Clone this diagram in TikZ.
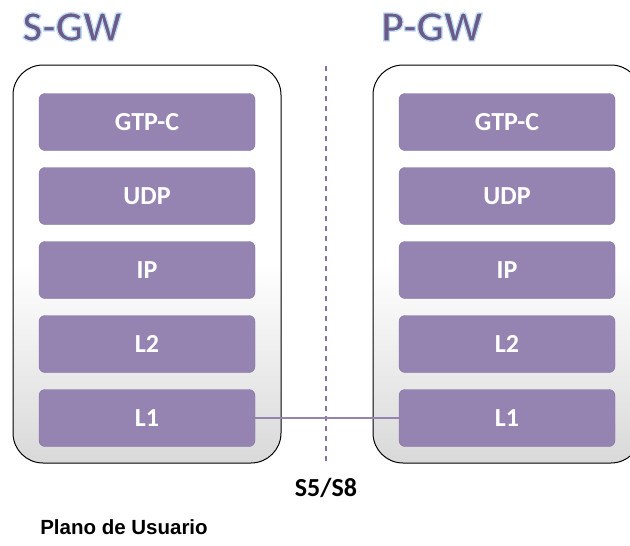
\documentclass[tikz,border=0pt]{standalone}
\usepackage{fontspec}
\newfontfamily\carlito{Carlito}
\newfontfamily\arialfont{Liberation Sans}
\usetikzlibrary{positioning}
\definecolor{layerpurple}{HTML}{9583B1}
\definecolor{layeredge}{HTML}{8372A0}
\definecolor{titlepurple}{HTML}{6B5B86}
% glowing outline of the titles
\newcommand{\glowtext}[1]{\special{pdf:literal 2 Tr 1.3 w 0.74 0.86 0.97 RG}#1\special{pdf:literal 0 Tr}}
\begin{document}
\begin{tikzpicture}[x=1pt,y=-1pt,
	gwbox/.style={draw=black,line width=1pt,rounded corners=30pt,inner sep=0pt,
		minimum width=268pt,minimum height=398pt,
		top color=white,bottom color=black!15,middle color=white},
	layer/.style={draw=layeredge,fill=layerpurple,rounded corners=6pt,
		minimum width=216pt,minimum height=57pt,text=white,
		font=\carlito\bfseries\fontsize{26}{28}\selectfont},
	gwtitle/.style={text=titlepurple,font=\carlito\bfseries\fontsize{43}{48}\selectfont}]
			\useasboundingbox (0,0) rectangle (630,546);
			\clip (0,0) rectangle (630,546);
			% gateways
			\node[gwbox] (sgw) at (147,264) {};
			\node[gwbox] (pgw) at (507,264) {};
			\node[gwtitle] (sgwtitle) at (72,27) {\glowtext{S-GW}};
			\node[gwtitle] (pgwtitle) at (432,27) {\glowtext{P-GW}};
			% protocol stacks
			\foreach \lbl/\nm [count=\i] in {GTP-C/gtpc,UDP/udp,IP/ip,L2/ltwo,L1/lone} {
				\node[layer] (s\nm) at (147,{48+74*\i}) {\lbl};
				\node[layer] (p\nm) at (507,{48+74*\i}) {\lbl};
			}
			% interface
			\coordinate (cuttop) at (326,66);
			\coordinate (cutbot) at (326,462);
			\draw[layeredge,line width=1.1pt,dash pattern=on 5pt off 5pt] (cuttop) -- (cutbot);
			\draw[layerpurple,line width=2pt] (slone.east) -- (plone.west);
			\node[font=\carlito\bfseries\fontsize{26}{28}\selectfont] (iface) at (326,488) {S5/S8};
			\node[font=\arialfont\bfseries\fontsize{20.5}{22}\selectfont] (plane) at (124,527) {Plano de Usuario};
		\end{tikzpicture}
\end{document}
